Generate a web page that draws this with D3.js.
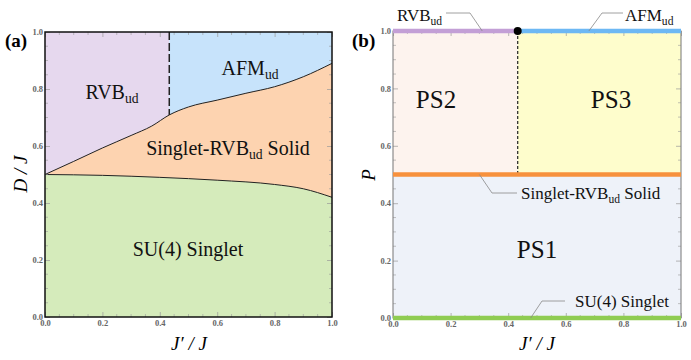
<!DOCTYPE html>
<html>
<head>
<meta charset="utf-8">
<script src="https://cdn.jsdelivr.net/npm/d3@7"></script>
<style>
  body { margin: 0; background: #fff; }
  svg text { font-family: "Liberation Serif", "Times New Roman", serif; }
  .tick text { fill: #666; font-weight: bold; font-size: 8.5px; }
</style>
</head>
<body>
<svg width="691" height="360"></svg>
<script>
// phase boundaries, panel (a)
const jpUpper = [0, 0.1, 0.2, 0.3, 0.372, 0.433, 0.5, 0.6, 0.7, 0.8, 0.9, 1.0];
const dUpper  = [0.5, 0.546, 0.593, 0.637, 0.67, 0.709, 0.737, 0.761, 0.785, 0.808, 0.843, 0.89];
const jpLower = [0, 0.2, 0.4, 0.6, 0.8, 0.9, 1.0];
const dLower  = [0.5, 0.497, 0.49, 0.48, 0.465, 0.45, 0.42];
const jpCrit = 0.433;
const tickVals = [0, 0.2, 0.4, 0.6, 0.8, 1.0];

// panel (b) lines
const pLevels = [
  {p: 1.0, x0: 0, x1: jpCrit, color: "#c39fd6"},
  {p: 1.0, x0: jpCrit, x1: 1, color: "#6db8f4"},
  {p: 0.5, x0: 0, x1: 1, color: "#f7913d"},
  {p: 0.0, x0: 0, x1: 1, color: "#8fcc52"}
];

let svg = d3.select("svg").style("font-family", '"Liberation Serif", "Times New Roman", serif');

let xa = d3.scaleLinear().domain([0, 1]).range([45, 332]);
let ya = d3.scaleLinear().domain([0, 1]).range([317, 32]);
let xb = d3.scaleLinear().domain([0, 1]).range([393, 681]);
let yb = d3.scaleLinear().domain([0, 1]).range([318, 31]);

function frameTicks(g, x, y) {
    let minor = d3.range(0, 1.0001, 0.05);
    let fmt = d3.format(".1f");
    let h = y.range()[0], t = y.range()[1], l = x.range()[0], r = x.range()[1];
    // bottom and left with labels
    g.append("g").attr("transform", `translate(0,${h})`)
        .call(d3.axisBottom(x).tickValues(tickVals).tickFormat(fmt).tickSize(-5).tickPadding(3))
        .call(a => a.select(".domain").remove());
    g.append("g").attr("transform", `translate(${l},0)`)
        .call(d3.axisLeft(y).tickValues(tickVals).tickFormat(fmt).tickSize(-5).tickPadding(2))
        .call(a => a.select(".domain").remove());
    g.append("g").attr("transform", `translate(0,${t})`)
        .call(d3.axisTop(x).tickValues(tickVals).tickFormat("").tickSize(-5))
        .call(a => a.select(".domain").remove());
    g.append("g").attr("transform", `translate(${r},0)`)
        .call(d3.axisRight(y).tickValues(tickVals).tickFormat("").tickSize(-5))
        .call(a => a.select(".domain").remove());
    let mt = minor.filter(v => Math.abs(v*5 - Math.round(v*5)) > 1e-6);
    let mg = g.append("g").attr("stroke", "#999").attr("stroke-width", 0.6);
    mt.forEach(v => {
        mg.append("line").attr("x1", x(v)).attr("x2", x(v)).attr("y1", h).attr("y2", h-3);
        mg.append("line").attr("x1", x(v)).attr("x2", x(v)).attr("y1", t).attr("y2", t+3);
        mg.append("line").attr("y1", y(v)).attr("y2", y(v)).attr("x1", l).attr("x2", l+3);
        mg.append("line").attr("y1", y(v)).attr("y2", y(v)).attr("x1", r).attr("x2", r-3);
    });
    g.selectAll(".tick line").attr("stroke", "#999").attr("stroke-width", 0.7);
}

/* PANEL A */
let ga = svg.append("g");
ga.append("rect").attr("x", xa(0)).attr("y", ya(1)).attr("width", xa(jpCrit)-xa(0)).attr("height", ya(0)-ya(1)).attr("fill", "#e6d8ee");
ga.append("rect").attr("x", xa(jpCrit)).attr("y", ya(1)).attr("width", xa(1)-xa(jpCrit)).attr("height", ya(0)-ya(1)).attr("fill", "#c7e3fb");

let upperPts = jpUpper.map((j, i) => [j, dUpper[i]]);
let lowerPts = jpLower.map((j, i) => [j, dLower[i]]);

ga.append("path").datum(upperPts)
    .attr("d", d3.area().x(d => xa(d[0])).y0(ya(0)).y1(d => ya(d[1])).curve(d3.curveMonotoneX))
    .attr("fill", "#fdd3b0");
ga.append("path").datum(lowerPts)
    .attr("d", d3.area().x(d => xa(d[0])).y0(ya(0)).y1(d => ya(d[1])).curve(d3.curveMonotoneX))
    .attr("fill", "#d5ebbb");

let lineA = d3.line().x(d => xa(d[0])).y(d => ya(d[1])).curve(d3.curveMonotoneX);
ga.append("path").datum(upperPts).attr("d", lineA).attr("fill", "none").attr("stroke", "#222").attr("stroke-width", 1);
ga.append("path").datum(lowerPts).attr("d", lineA).attr("fill", "none").attr("stroke", "#222").attr("stroke-width", 1);
ga.append("line").attr("x1", xa(jpCrit)).attr("x2", xa(jpCrit)).attr("y1", ya(1)).attr("y2", ya(dUpper[5]))
    .attr("stroke", "#222").attr("stroke-width", 1.5).attr("stroke-dasharray", "8,3");

frameTicks(ga, xa, ya);
ga.append("rect").attr("x", xa(0)).attr("y", ya(1)).attr("width", xa(1)-xa(0)).attr("height", ya(0)-ya(1))
    .attr("fill", "none").attr("stroke", "#111").attr("stroke-width", 1.5);

let labA = ga.append("g").attr("font-size", 19).attr("fill", "#111");
function subLabel(g, x, y, main, sub, rest, size, anchor) {
    let t = g.append("text").attr("x", x).attr("y", y).attr("font-size", size).attr("text-anchor", anchor || "middle");
    t.append("tspan").text(main);
    t.append("tspan").attr("font-size", size*0.68).attr("dy", size*0.22).text(sub);
    if (rest) t.append("tspan").attr("dy", -size*0.22).text(rest);
    return t;
}
subLabel(labA, 112, 99, "RVB", "ud", null, 20);
subLabel(labA, 250, 75, "AFM", "ud", null, 20);
subLabel(labA, 228, 155, "Singlet-RVB", "ud", " Solid", 20);
labA.append("text").attr("x", 188).attr("y", 256).attr("text-anchor", "middle").attr("font-size", 20).text("SU(4) Singlet");

ga.append("text").attr("x", 5).attr("y", 47).attr("font-size", 19).attr("font-weight", "bold").text("(a)");
ga.append("text").attr("transform", "translate(27,174) rotate(-90)").attr("text-anchor", "middle")
    .attr("font-size", 19).attr("font-style", "italic").text("D / J");
ga.append("text").attr("x", 189).attr("y", 350).attr("text-anchor", "middle")
    .attr("font-size", 19).attr("font-style", "italic").text("J\u2032 / J");

/* PANEL B */
let gb = svg.append("g");
gb.append("rect").attr("x", xb(0)).attr("y", yb(1)).attr("width", xb(1)-xb(0)).attr("height", yb(0)-yb(0.5)).attr("y", yb(0.5)).attr("fill", "#eef2f9");
gb.append("rect").attr("x", xb(0)).attr("y", yb(1)).attr("width", xb(jpCrit)-xb(0)).attr("height", yb(0.5)-yb(1)).attr("fill", "#fdf3ee");
gb.append("rect").attr("x", xb(jpCrit)).attr("y", yb(1)).attr("width", xb(1)-xb(jpCrit)).attr("height", yb(0.5)-yb(1)).attr("fill", "#fefdcc");

gb.append("line").attr("x1", xb(jpCrit)).attr("x2", xb(jpCrit)).attr("y1", yb(1)).attr("y2", yb(0.5))
    .attr("stroke", "#222").attr("stroke-width", 1.2).attr("stroke-dasharray", "3,2");

frameTicks(gb, xb, yb);
gb.append("rect").attr("x", xb(0)).attr("y", yb(1)).attr("width", xb(1)-xb(0)).attr("height", yb(0)-yb(1))
    .attr("fill", "none").attr("stroke", "#777").attr("stroke-width", 1);

gb.selectAll(".level").data(pLevels).enter().append("line")
    .attr("x1", d => xb(d.x0)).attr("x2", d => xb(d.x1))
    .attr("y1", d => yb(d.p)).attr("y2", d => yb(d.p))
    .attr("stroke", d => d.color).attr("stroke-width", 4.5);

gb.append("circle").attr("cx", xb(jpCrit)).attr("cy", yb(1)).attr("r", 4).attr("fill", "#000");

let labB = gb.append("g").attr("fill", "#111");
labB.append("text").attr("x", 436).attr("y", 108).attr("text-anchor", "middle").attr("font-size", 25).text("PS2");
labB.append("text").attr("x", 611).attr("y", 108).attr("text-anchor", "middle").attr("font-size", 25).text("PS3");
labB.append("text").attr("x", 537).attr("y", 258).attr("text-anchor", "middle").attr("font-size", 25).text("PS1");

// callouts
let co = gb.append("g").attr("stroke", "#888").attr("stroke-width", 0.8).attr("fill", "none");
co.append("polyline").attr("points", `446,13 470,13 ${xb(0.31)},${yb(1)}`);
co.append("polyline").attr("points", `623,13 602,13 ${xb(0.68)},${yb(1)}`);
co.append("polyline").attr("points", `${xb(0.3)},${yb(0.5)} 492,193 517,193`);
co.append("polyline").attr("points", `${xb(0.478)},${yb(0)} 542,301 565,301`);

subLabel(labB, 397, 21, "RVB", "ud", null, 17, "start");
subLabel(labB, 625, 21, "AFM", "ud", null, 17, "start");
subLabel(labB, 521, 199, "Singlet-RVB", "ud", " Solid", 17, "start");
labB.append("text").attr("x", 575).attr("y", 307).attr("font-size", 17).text("SU(4) Singlet");

gb.append("text").attr("x", 352).attr("y", 47).attr("font-size", 19).attr("font-weight", "bold").text("(b)");
gb.append("text").attr("transform", "translate(375,175) rotate(-90)").attr("text-anchor", "middle")
    .attr("font-size", 19).attr("font-style", "italic").text("P");
gb.append("text").attr("x", 537).attr("y", 350).attr("text-anchor", "middle")
    .attr("font-size", 19).attr("font-style", "italic").text("J\u2032 / J");
</script>
</body>
</html>
